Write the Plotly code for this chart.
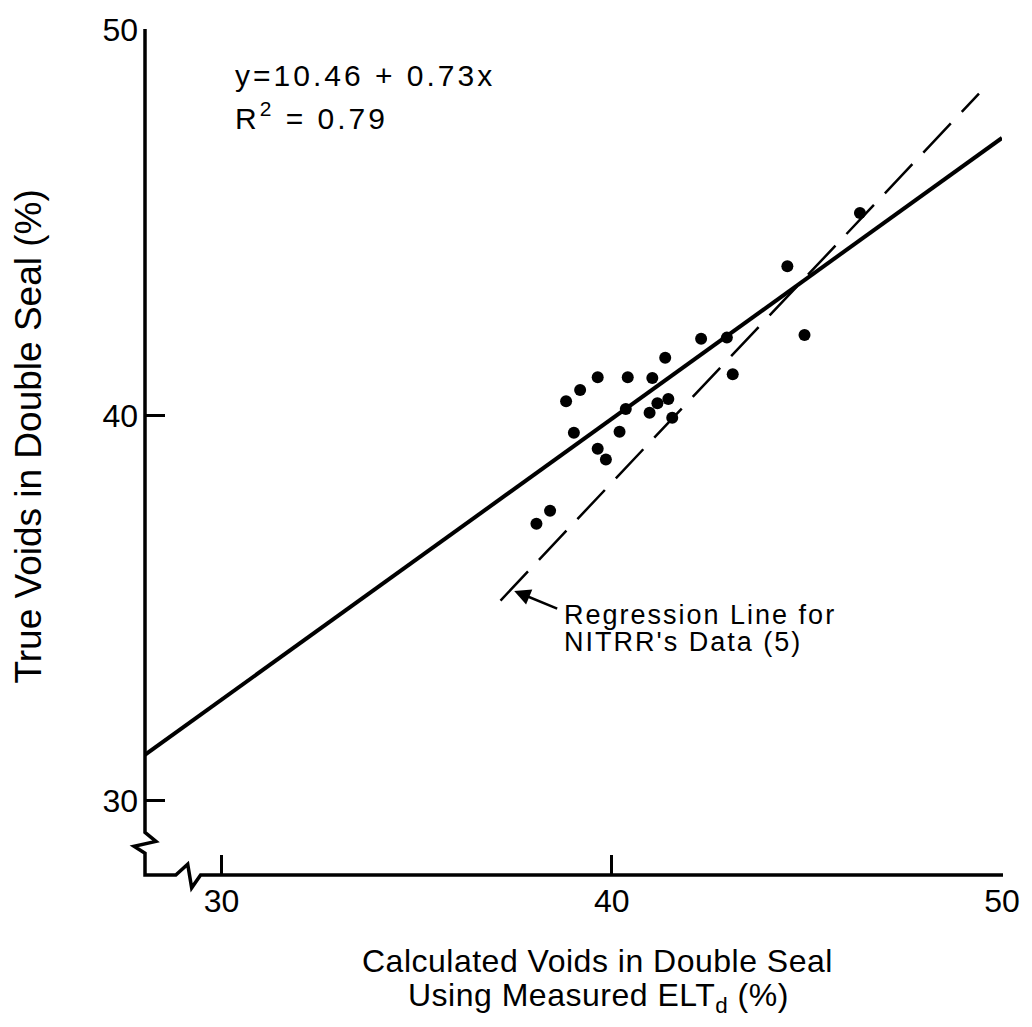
import plotly.graph_objects as go

# ---- data ----
calc_voids = [38.83, 39.19, 39.64, 40.41, 41.04, 41.37, 42.29, 42.95, 44.94, 43.10,
              40.36, 41.17, 41.45, 40.97, 41.55, 39.03, 40.20, 39.64, 39.85, 38.42,
              38.07, 46.36, 44.50]
true_voids = [40.37, 40.66, 40.99, 40.99, 40.97, 41.50, 41.99, 42.02, 42.09, 41.07,
              40.17, 40.32, 40.43, 40.07, 39.94, 39.55, 39.58, 39.14, 38.86, 37.53,
              37.19, 45.25, 43.87]
fit_x = [28.0, 50.0]
fit_y = [31.17, 47.2]
nitrr_x = [37.15, 49.41]
nitrr_y = [35.2, 48.35]
tick_vals = [30, 40, 50]
tick_text = ["30", "40", "50"]

X_RANGE = [28.04, 50]
Y_RANGE = [28.08, 50]

W, H = 1032, 1027
ML, MR, MT, MB = 145, 24, 21, 152
PW, PH = W - ML - MR, H - MT - MB

def fx(px):
    return (px - ML) / PW

def fy(py):
    return (H - MB - py) / PH

FONT = "Liberation Sans, Arial, Helvetica, sans-serif"

fig = go.Figure()
fig.add_trace(go.Scatter(x=fit_x, y=fit_y, mode="lines",
                         line=dict(color="black", width=4), showlegend=False, hoverinfo="skip"))
fig.add_trace(go.Scatter(x=nitrr_x, y=nitrr_y, mode="lines",
                         line=dict(color="black", width=2.5, dash="40px,16px"),
                         showlegend=False, hoverinfo="skip"))
fig.add_trace(go.Scatter(x=calc_voids, y=true_voids, mode="markers",
                         marker=dict(color="black", size=12), showlegend=False))

# axis lines with break marks
pts = [(145, 20), (145, 832), (156, 841), (134, 846), (145, 853), (145, 875),
       (176, 875), (188, 864), (192, 888), (201, 875), (1009, 875)]
path = "M " + " L ".join(f"{fx(a):.5f},{fy(b):.5f}" for a, b in pts)
fig.add_shape(type="path", path=path, xref="paper", yref="paper",
              line=dict(color="black", width=3.5))

ls = "letter-spacing:3px"
annots = [
    dict(text=f'<span style="{ls}">y=10.46 + 0.73x</span>', x=fx(234), y=fy(67),
         xanchor="left", yanchor="middle", font=dict(size=30)),
    dict(text=f'<span style="{ls}">R<sup>2</sup> = 0.79</span>', x=fx(234), y=fy(108),
         xanchor="left", yanchor="middle", font=dict(size=30)),
    dict(text='<span style="letter-spacing:2px">Regression Line for</span>', x=fx(565), y=fy(612),
         xanchor="left", yanchor="middle", font=dict(size=27)),
    dict(text='<span style="letter-spacing:2px">NITRR\'s Data (5)</span>', x=fx(565), y=fy(640),
         xanchor="left", yanchor="middle", font=dict(size=27)),
    dict(text='<span style="letter-spacing:0.5px">Calculated Voids in Double Seal</span>',
         x=fx(601), y=fy(962), xanchor="center", yanchor="middle", font=dict(size=32)),
    dict(text='<span style="letter-spacing:0.5px">Using Measured ELT<sub>d</sub> (%)</span>',
         x=fx(602), y=fy(999), xanchor="center", yanchor="middle", font=dict(size=32)),
    dict(text="True Voids in Double Seal (%)", x=fx(28), y=fy(432), textangle=-90,
         xanchor="center", yanchor="middle", font=dict(size=37)),
]
for a in annots:
    a.update(xref="paper", yref="paper", showarrow=False)
    a["font"].update(family=FONT, color="black")
    fig.add_annotation(**a)

# arrow pointing to dashed line
fig.add_annotation(x=37.5, y=35.45, xref="x", yref="y", text=" ", showarrow=True,
                   ax=46, ay=19, arrowhead=2, arrowsize=1.3, arrowwidth=2.5,
                   arrowcolor="black", standoff=0)

axis_common = dict(showgrid=False, zeroline=False, showline=False,
                   ticks="inside", ticklen=20, tickwidth=3, tickcolor="black",
                   tickvals=tick_vals, ticktext=tick_text,
                   tickfont=dict(family=FONT, size=32, color="black"))
fig.update_xaxes(range=X_RANGE, ticklabelstandoff=4, **axis_common)
fig.update_yaxes(range=Y_RANGE, ticklabelstandoff=6, **axis_common)

fig.update_layout(width=W, height=H, margin=dict(l=ML, r=MR, t=MT, b=MB, pad=0),
                  plot_bgcolor="white", paper_bgcolor="white",
                  font=dict(family=FONT, color="black"))

fig.write_html("out.html", config={"displayModeBar": False},
               post_script="document.body.style.margin='0';document.body.style.overflow='hidden';")
